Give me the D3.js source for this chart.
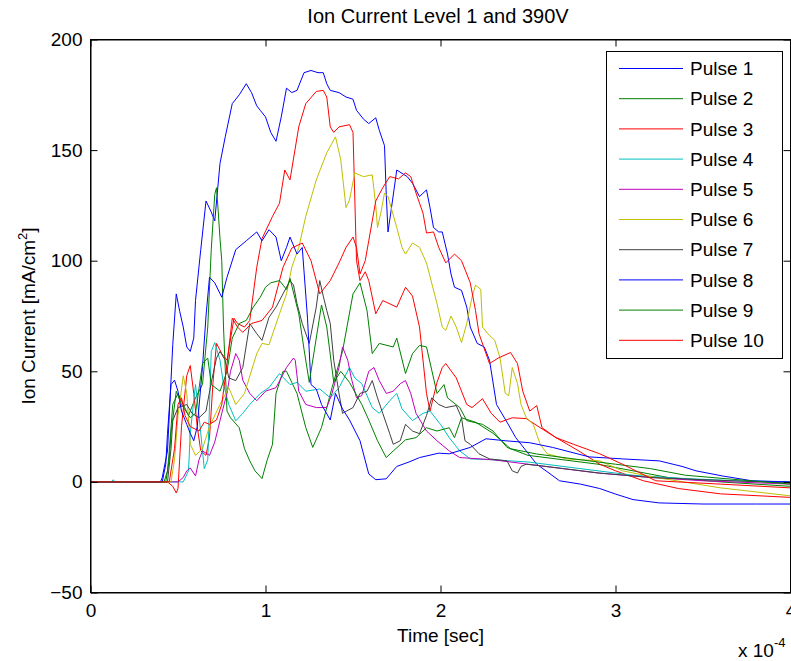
<!DOCTYPE html>
<html><head><meta charset="utf-8">
<script src="https://cdn.jsdelivr.net/npm/d3@7"></script>
<style>
body{margin:0;background:#fff;overflow:hidden;}
svg{display:block;}
text{font-family:"Liberation Sans",Arial,Helvetica,sans-serif;fill:#000;}
</style>
</head><body>
<svg id="chart" width="791" height="661"></svg>
<script>
// ---------- data (time in units of 1e-4 s, current in mA/cm^2) ----------
const seriesNames = ["Pulse 1","Pulse 2","Pulse 3","Pulse 4","Pulse 5","Pulse 6","Pulse 7","Pulse 8","Pulse 9","Pulse 10"];
const seriesColors = ["#0000ff","#008000","#ff0000","#00bfbf","#bf00bf","#bfbf00","#404040","#0000ff","#008000","#ff0000"];
const xTicks = [0,1,2,3,4];
const yTicks = [-50,0,50,100,150,200];

const pulse1 = [[0,0],[0.40,0],[0.41,2],[0.44,14],[0.47,62],[0.49,85],[0.51,77],[0.53,70],[0.55,61],[0.57,59],[0.59,65],[0.60,82],[0.63,105],[0.66,127],[0.69,122],[0.71,118],[0.74,144],[0.77,156],[0.81,171],[0.85,175],[0.89,180],[0.92,176],[0.95,170],[0.97,168],[1.00,165],[1.03,158],[1.06,154],[1.09,165],[1.12,178],[1.15,176],[1.18,177],[1.22,185],[1.26,186],[1.30,185],[1.33,185],[1.35,180],[1.37,177],[1.42,176],[1.46,174],[1.50,173],[1.52,168],[1.56,164],[1.59,162],[1.63,164.6],[1.65,159],[1.68,152],[1.69,130],[1.70,113],[1.72,124],[1.75,141],[1.81,138],[1.84,135],[1.88,129],[1.92,132],[1.94,124],[1.96,115],[1.99,113],[2.01,113],[2.04,103],[2.06,94],[2.08,88],[2.12,86.6],[2.15,79],[2.17,70],[2.21,62.6],[2.25,61],[2.28,55],[2.32,35],[2.38,27],[2.43,20],[2.49,14],[2.55,8],[2.62,4],[2.68,0.5],[2.8,-1],[2.91,-3],[3.0,-5.5],[3.1,-8],[3.25,-9.5],[3.5,-10],[3.8,-10],[4.0,-10]];
const pulse2 = [[0,0],[0.42,0],[0.44,5],[0.45,14],[0.47,35],[0.50,40],[0.53,35],[0.56,30],[0.60,38],[0.64,44],[0.67,70],[0.69,105],[0.71,130],[0.72,133],[0.73,122],[0.74,110],[0.75,100],[0.76,70],[0.78,32],[0.80,29],[0.85,24.5],[0.88,15],[0.91,9.5],[0.94,5],[0.98,1.5],[1.01,10],[1.04,17],[1.06,40],[1.10,50],[1.12,50],[1.15,45],[1.18,40],[1.23,24.6],[1.27,15.6],[1.32,24.6],[1.38,42.6],[1.44,59],[1.50,85],[1.54,90],[1.58,77.5],[1.61,58],[1.65,62.6],[1.73,61],[1.75,65],[1.80,49],[1.84,58],[1.88,61.7],[1.92,61],[1.98,40],[2.02,44],[2.04,38],[2.11,33.6],[2.15,27.7],[2.24,26],[2.3,23],[2.38,15.6],[2.5,12],[2.7,10],[2.9,8],[3.1,5],[3.3,2],[3.6,0],[4.0,-2]];
const pulse3 = [[0,0],[0.44,0],[0.47,-2],[0.49,-5],[0.50,-3],[0.52,25],[0.55,48],[0.57,52.6],[0.59,40],[0.61,25],[0.63,14],[0.66,12],[0.68,20],[0.70,45],[0.72,62.6],[0.75,58],[0.78,55],[0.82,74],[0.84,71.6],[0.88,70],[0.91,73],[0.95,97],[0.98,110],[1.04,120],[1.08,126],[1.11,141],[1.14,136.5],[1.19,160.5],[1.23,171],[1.29,176.5],[1.33,177],[1.35,174],[1.37,160.5],[1.39,158],[1.42,160.5],[1.48,161.5],[1.50,158],[1.52,100],[1.54,91],[1.57,95],[1.59,91],[1.63,76],[1.67,82],[1.75,79],[1.80,88],[1.84,84],[1.88,70],[1.92,40],[1.94,32],[1.98,45],[2.01,51.7],[2.03,53.5],[2.09,47],[2.15,35],[2.18,33.6],[2.24,37.6],[2.29,31],[2.34,27],[2.41,29],[2.49,28.6],[2.57,24.5],[2.66,20],[2.79,14],[2.91,8],[3.0,5],[3.16,0.5],[3.36,-3],[3.6,-5.4],[4.0,-7]];
const pulse4 = [[0,0],[0.12,0],[0.13,1],[0.14,0],[0.53,0],[0.56,5],[0.57,22],[0.60,44],[0.62,30],[0.65,6],[0.67,10],[0.69,59],[0.71,63],[0.74,55],[0.76,44],[0.79,35],[0.83,27.6],[0.87,31],[0.91,35],[0.97,40],[1.02,42.6],[1.08,49],[1.14,44],[1.18,45],[1.23,41],[1.31,42],[1.37,38],[1.42,42.6],[1.48,51.7],[1.51,47],[1.55,44.4],[1.61,33.6],[1.65,31],[1.71,36.7],[1.75,40],[1.78,33],[1.84,27.7],[1.90,31],[1.94,32],[2.0,26],[2.05,20],[2.08,17],[2.11,14],[2.17,10.4],[2.3,10],[2.5,9],[2.7,7],[2.9,5],[3.1,3],[3.4,1.5],[3.7,0.5],[4.0,0]];
const pulse5 = [[0,0],[0.50,0],[0.53,2],[0.55,5],[0.57,6.3],[0.60,2.7],[0.62,10],[0.64,14],[0.68,12],[0.71,18],[0.73,24.5],[0.75,31],[0.78,40],[0.80,50],[0.83,58],[0.85,55],[0.87,46],[0.91,40],[0.95,36.7],[1.00,41],[1.06,42.6],[1.12,51.7],[1.16,56],[1.17,55],[1.19,41],[1.23,35],[1.29,33.6],[1.35,33.6],[1.38,40],[1.42,51.7],[1.44,61],[1.47,55],[1.49,47],[1.52,38],[1.55,39],[1.59,50],[1.62,51.7],[1.65,45.8],[1.69,40],[1.73,41],[1.77,44.4],[1.80,45.8],[1.83,40],[1.86,31],[1.92,23],[1.98,18.6],[2.05,14],[2.11,11],[2.3,10],[2.5,8],[2.7,6],[2.9,4],[3.2,2],[3.5,0.5],[4.0,-1]];
const pulse6 = [[0,0],[0.46,0],[0.48,10],[0.50,30],[0.53,48],[0.55,40],[0.57,17],[0.60,12],[0.64,15],[0.68,25],[0.74,35],[0.79,42.6],[0.83,35],[0.88,40],[0.95,58],[0.98,62.6],[1.02,62],[1.08,76],[1.12,85],[1.15,97],[1.19,106],[1.23,120],[1.29,136.5],[1.35,148.8],[1.40,156],[1.43,145.6],[1.46,124],[1.48,127.4],[1.51,139.7],[1.56,138],[1.61,138.8],[1.63,125],[1.64,115],[1.66,122],[1.68,130.6],[1.70,129],[1.75,115],[1.78,106],[1.80,103],[1.84,108],[1.88,106],[1.92,99],[1.98,80.6],[2.01,70],[2.03,68.5],[2.06,75],[2.09,70],[2.12,63],[2.15,71.6],[2.18,83.5],[2.20,89],[2.23,87],[2.24,70],[2.27,67],[2.31,64],[2.34,56],[2.37,40],[2.39,39],[2.41,51.7],[2.44,44.4],[2.46,35],[2.49,29],[2.53,26],[2.57,17],[2.61,12.7],[2.72,10.4],[2.91,9.5],[3.04,5],[3.23,2],[3.6,-2.7],[4.0,-6.3]];
const pulse7 = [[0,0],[0.44,0],[0.46,15],[0.47,27.7],[0.50,33.6],[0.55,35],[0.58,31],[0.62,29],[0.66,32],[0.69,45],[0.72,56],[0.74,59],[0.77,55],[0.79,47],[0.83,45.8],[0.87,51.7],[0.91,71.6],[0.95,67],[0.98,64],[1.02,74.4],[1.06,79],[1.10,85],[1.14,91],[1.16,89],[1.18,80.6],[1.21,71.6],[1.25,62.6],[1.29,79],[1.31,91],[1.33,84],[1.35,77.5],[1.37,71.6],[1.39,55],[1.42,40],[1.44,31],[1.50,33.6],[1.54,40],[1.58,41],[1.61,45.8],[1.64,38],[1.67,31],[1.71,21.8],[1.73,17],[1.77,18.6],[1.80,26],[1.84,23],[1.88,21.8],[1.92,30],[1.95,38],[1.99,35],[2.03,33.6],[2.09,34.5],[2.12,29],[2.14,18.6],[2.17,17],[2.22,12.7],[2.28,10.4],[2.38,9.5],[2.41,5],[2.44,4],[2.46,7],[2.49,8],[2.6,7],[2.91,4],[3.2,2],[3.5,1],[4.0,-0.5]];
const pulse8 = [[0,0],[0.41,0],[0.43,8],[0.44,22],[0.46,44],[0.48,46],[0.50,41],[0.52,32],[0.55,26],[0.57,22],[0.59,18.6],[0.61,25],[0.64,52],[0.66,75],[0.68,92.5],[0.71,90],[0.75,83.5],[0.78,92.5],[0.83,105],[0.89,109],[0.95,113],[0.98,109],[1.02,114],[1.06,110.7],[1.09,100],[1.12,106],[1.14,110.7],[1.18,103],[1.21,106],[1.24,74],[1.26,44],[1.29,42],[1.32,35],[1.37,28],[1.40,40],[1.44,33],[1.48,28],[1.54,18.6],[1.59,3.6],[1.63,1],[1.69,1.4],[1.75,7],[1.82,9],[1.88,11],[1.99,13],[2.05,12.7],[2.17,15.6],[2.26,19.5],[2.37,18.6],[2.51,17.7],[2.64,15.6],[2.85,11.3],[3.04,10.4],[3.25,9.5],[3.38,7],[3.46,5],[3.61,2.7],[3.78,0.5],[4.0,0]];
const pulse9 = [[0,0],[0.43,0],[0.45,10],[0.46,22],[0.49,41],[0.52,35],[0.57,29],[0.60,31],[0.64,53.5],[0.67,56],[0.69,44],[0.74,41],[0.78,50],[0.81,65],[0.85,71.6],[0.89,73],[0.93,79],[0.97,83.5],[1.00,88],[1.03,90],[1.08,91],[1.12,87],[1.14,92],[1.19,76],[1.22,60],[1.25,45],[1.28,60],[1.32,80],[1.35,70],[1.39,45],[1.43,50],[1.48,45],[1.55,35],[1.59,28],[1.64,18.6],[1.69,11],[1.73,14],[1.80,19],[1.86,20],[1.92,24.5],[1.98,23],[2.05,24.5],[2.08,20],[2.12,29],[2.2,27],[2.3,22],[2.4,15],[2.55,12.6],[2.8,10],[3.0,8],[3.2,6],[3.4,3],[3.7,1],[4.0,-1]];
const pulse10 = [[0,0],[0.45,0],[0.48,15],[0.50,35],[0.52,38],[0.54,30],[0.57,25],[0.62,23],[0.65,27],[0.68,26],[0.72,28],[0.75,35],[0.78,53],[0.81,74],[0.84,70],[0.87,67.6],[0.92,71.6],[0.98,73],[1.04,79],[1.10,97],[1.15,105.7],[1.21,108],[1.26,100],[1.31,85],[1.37,91],[1.42,99],[1.46,106],[1.50,110.7],[1.52,106],[1.54,94],[1.57,100],[1.59,109],[1.63,127],[1.67,133],[1.71,138],[1.76,137],[1.80,139.7],[1.83,138],[1.86,130.6],[1.90,121.5],[1.92,112.5],[1.96,113],[1.99,106],[2.03,99],[2.08,103],[2.12,100],[2.17,90],[2.20,77.5],[2.22,67],[2.28,53.5],[2.33,56],[2.40,58.5],[2.44,53.5],[2.47,41],[2.51,32],[2.55,34.5],[2.58,24.5],[2.66,20],[2.76,17],[2.91,12.7],[3.04,8],[3.23,0.5],[3.6,-1],[4.0,-2.7]];

const allSeries = [pulse1,pulse2,pulse3,pulse4,pulse5,pulse6,pulse7,pulse8,pulse9,pulse10];

// ---------- layout ----------
const W = 791, H = 661;
const L = 90.5, R = 790.5, T = 39.5, B = 592.5;
const svg = d3.select("#chart");

const x = d3.scaleLinear().domain([0,4]).range([L,R]);
const y = d3.scaleLinear().domain([-50,200]).range([B,T]);

svg.append("defs").append("clipPath").attr("id","plotclip")
  .append("rect").attr("x",L).attr("y",T).attr("width",R-L).attr("height",B-T);

// lines
const line = d3.line().x(d=>x(d[0])).y(d=>y(d[1]));
const g = svg.append("g").attr("clip-path","url(#plotclip)");
allSeries.forEach((s,i)=>{
  g.append("path").datum(s).attr("d",line)
    .attr("fill","none").attr("stroke",seriesColors[i]).attr("stroke-width",1);
});

// axes (inward ticks, MATLAB style)
const fs = 19;
const ax = svg.append("g").attr("transform",`translate(0,${B})`)
  .call(d3.axisBottom(x).tickValues(xTicks).tickSizeInner(-7).tickSizeOuter(0).tickPadding(11).tickFormat(d3.format("d")));
const ay = svg.append("g").attr("transform",`translate(${L},0)`)
  .call(d3.axisLeft(y).tickValues(yTicks).tickSizeInner(-7).tickSizeOuter(0).tickPadding(8).tickFormat(d3.format("d")));
const at = svg.append("g").attr("transform",`translate(0,${T})`)
  .call(d3.axisTop(x).tickValues(xTicks).tickSizeInner(-7).tickSizeOuter(0).tickFormat(""));
const ar = svg.append("g").attr("transform",`translate(${R},0)`)
  .call(d3.axisRight(y).tickValues(yTicks).tickSizeInner(-7).tickSizeOuter(0).tickFormat(""));
[ax,ay,at,ar].forEach(a=>{
  a.selectAll("path.domain").attr("stroke","#000");
  a.selectAll("line").attr("stroke","#000");
  a.selectAll("text").attr("font-size",fs).attr("font-family",'"Liberation Sans",Arial,sans-serif').attr("fill","#000");
});
svg.append("rect").attr("x",L).attr("y",T).attr("width",R-L).attr("height",B-T)
  .attr("fill","none").attr("stroke","#000").attr("stroke-width",1);

// title & labels
svg.append("text").attr("x",438).attr("y",23).attr("text-anchor","middle")
  .attr("font-size",20).text("Ion Current Level 1 and 390V");
svg.append("text").attr("x",(L+R)/2).attr("y",642).attr("text-anchor","middle")
  .attr("font-size",fs).text("Time [sec]");
const yl = svg.append("text").attr("transform",`translate(35,${(T+B)/2}) rotate(-90)`)
  .attr("text-anchor","middle").attr("font-size",fs);
yl.append("tspan").text("Ion Current [mA/cm");
yl.append("tspan").attr("font-size",13).attr("dy",-8).text("2");
yl.append("tspan").attr("dy",8).text("]");
const ex = svg.append("text").attr("x",738).attr("y",657).attr("font-size",fs);
ex.append("tspan").text("x 10");
ex.append("tspan").attr("font-size",13).attr("dy",-10).text("-4");

// legend
const lg = svg.append("g");
lg.append("rect").attr("x",606.5).attr("y",51.5).attr("width",176).attr("height",307)
  .attr("fill","#fff").attr("stroke","#000").attr("stroke-width",1);
seriesNames.forEach((n,i)=>{
  const yy = 68.5 + i*30.2;
  lg.append("line").attr("x1",619).attr("x2",683).attr("y1",yy).attr("y2",yy)
    .attr("stroke",seriesColors[i]).attr("stroke-width",1);
  lg.append("text").attr("x",690).attr("y",yy).attr("dy","0.35em")
    .attr("font-size",fs).text(n);
});
</script>
</body></html>
